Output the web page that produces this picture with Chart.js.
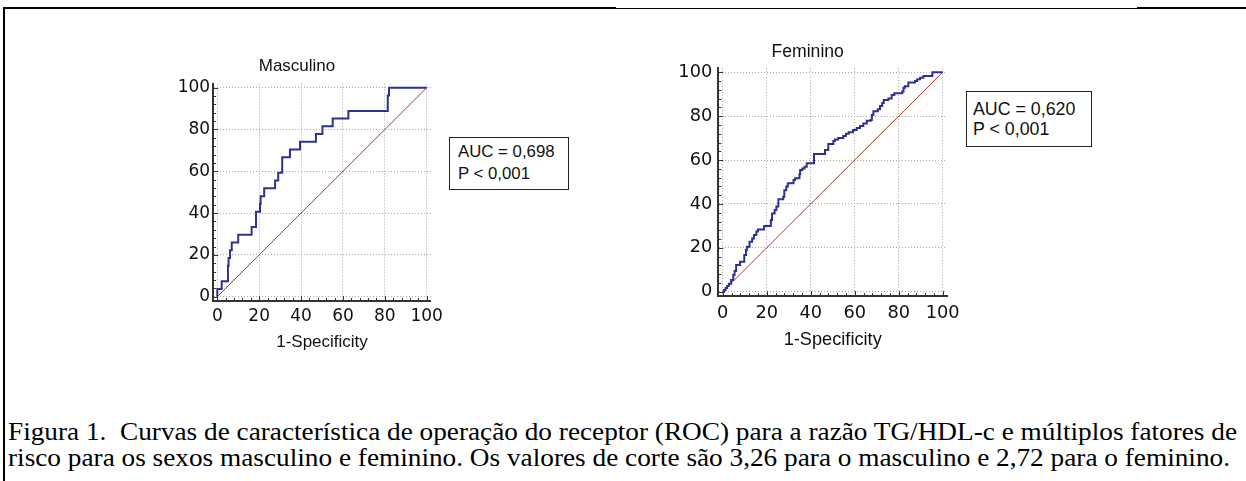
<!DOCTYPE html>
<html>
<head>
<meta charset="utf-8">
<script src="https://cdn.jsdelivr.net/npm/chart.js@4.4.1/dist/chart.umd.min.js"></script>
<style>
  html, body { margin: 0; padding: 0; background: #fff; }
  body { width: 1246px; height: 481px; position: relative; overflow: hidden; }
  .line { position: absolute; background: #000; }
  .chartwrap { position: absolute; }
  .auc { position: absolute; box-sizing: border-box; border: 1.5px solid #222; background: #fff;
         font-family: "Liberation Sans", Arial, sans-serif; color: #111; white-space: pre; }
  .cap { position: absolute; left: 8px; font-family: "Liberation Serif", "Times New Roman", serif;
         font-size: 26px; line-height: 1; white-space: pre; transform-origin: 0 0; color: #000; }
</style>
</head>
<body>
<!-- frame -->
<div class="line" style="left:3px;top:7px;width:613px;height:2px;"></div>
<div class="line" style="left:616px;top:8px;width:521px;height:1px;"></div>
<div class="line" style="left:1137px;top:7px;width:109px;height:2px;"></div>
<div class="line" style="left:3px;top:7px;width:1.5px;height:474px;"></div>

<div class="chartwrap" style="left:140px;top:40px;width:310px;height:330px;"><canvas id="cM" width="310" height="330"></canvas></div>
<div class="chartwrap" style="left:650px;top:20px;width:320px;height:350px;"><canvas id="cF" width="320" height="350"></canvas></div>

<div class="auc" id="boxM" style="left:449px;top:137px;width:120px;height:53px;padding:3px 0 0 8px;font-size:16.8px;line-height:22px;"></div>
<div class="auc" id="boxF" style="left:966px;top:91px;width:126px;height:56px;padding:7px 0 0 6px;font-size:17.8px;line-height:20px;"></div>

<div class="cap" id="cap1" style="top:419px;"></div>
<div class="cap" id="cap2" style="top:445px;"></div>

<script>
// ---------- data ----------
const mascFpr = [0, 0, 2.1, 5.1, 5.4, 6.1, 6.9, 10.0, 16.4, 18.5, 20.4, 20.7, 22.4, 27.6, 29.1, 31.0, 34.7, 39.5, 47.1, 50.2, 55.1, 62.6, 81.4, 82.0, 100];
const mascTpr = [0, 3.7, 7.4, 14.8, 18.5, 22.2, 25.9, 29.6, 33.3, 40.7, 44.4, 48.1, 51.9, 55.6, 59.3, 66.7, 70.4, 74.1, 77.8, 81.5, 85.2, 88.9, 96.3, 100, 100];

const femFpr = [0, 0.6, 1.3, 2.0, 2.8, 3.8, 4.8, 5.4, 6.1, 7.9, 9.8, 10.6, 11.0, 12.2, 13.4, 14.2, 15.3, 16.0, 18.8, 21.9, 22.4, 23.6, 24.4, 25.3, 27.5, 28.0, 28.9, 29.6, 32.2, 32.9, 34.9, 35.2, 36.2, 37.2, 38.2, 41.5, 46.5, 48.0, 50.3, 51.0, 52.5, 54.8, 56.0, 57.3, 59.2, 60.9, 62.4, 63.9, 65.5, 67.3, 67.8, 68.5, 70.5, 71.5, 72.5, 73.2, 75.3, 76.8, 78.0, 81.6, 82.2, 82.8, 84.4, 87.4, 88.4, 89.7, 91.2, 95.3, 100];
const femTpr = [0, 0.8, 1.7, 2.6, 3.6, 5.3, 7.6, 9.4, 12.2, 13.7, 16.7, 19.0, 20.5, 22.8, 24.3, 25.8, 27.4, 28.4, 29.9, 32.7, 35.7, 37.2, 38.8, 42.1, 43.3, 46.2, 48.0, 49.4, 50.9, 51.7, 53.5, 55.5, 56.2, 57.0, 58.5, 62.8, 64.6, 67.3, 68.7, 69.4, 70.1, 71.0, 72.0, 72.7, 73.7, 74.6, 75.5, 76.7, 77.9, 78.3, 80.5, 82.2, 83.2, 84.7, 86.0, 87.4, 88.1, 89.7, 90.5, 91.2, 93.0, 93.6, 95.3, 96.0, 96.8, 97.5, 98.3, 100, 100];

const diagX = [0, 100];
const diagY = [0, 100];
const tickValues = [0, 20, 40, 60, 80, 100];
const chartTitles = ['Masculino', 'Feminino'];
const xAxisTitle = '1-Specificity';
const aucTexts = ['AUC = 0,698', 'AUC = 0,620'];
const pTexts = ['P < 0,001', 'P < 0,001'];
const captionLines = [
  'Figura 1.  Curvas de característica de operação do receptor (ROC) para a razão TG/HDL-c e múltiplos fatores de',
  'risco para os sexos masculino e feminino. Os valores de corte são 3,26 para o masculino e 2,72 para o feminino.'
];

// ---------- plugin: minor ticks ----------
const minorTicks = {
  id: 'minorTicks',
  afterDraw(chart) {
    const { ctx, chartArea, scales } = chart;
    const x = scales.x, y = scales.y;
    ctx.save();
    ctx.strokeStyle = '#333';
    ctx.lineWidth = 1;
    for (let v = 0; v <= 100; v += 4) {
      const len = (v % 20 === 0) ? 5 : 3;
      const py = Math.round(y.getPixelForValue(v)) + 0.5;
      ctx.beginPath(); ctx.moveTo(chartArea.left, py); ctx.lineTo(chartArea.left + len, py); ctx.stroke();
      const px = Math.round(x.getPixelForValue(v)) + 0.5;
      ctx.beginPath(); ctx.moveTo(px, chartArea.bottom); ctx.lineTo(px, chartArea.bottom - len); ctx.stroke();
    }
    ctx.restore();
  }
};

function makeChart(id, fpr, tpr, title, cfg) {
  const roc = fpr.map((v, i) => ({ x: v, y: tpr[i] }));
  const diag = diagX.map((v, i) => ({ x: v, y: diagY[i] }));
  const tickFont = { family: 'DejaVu Sans', size: cfg.tickSize };
  const gridOpts = { color: '#a8a8a8', lineWidth: 1, drawTicks: false };
  const borderOpts = { display: true, color: '#333', width: 2, dash: [1, 2] };
  return new Chart(document.getElementById(id), {
    type: 'line',
    data: {
      datasets: [
        { data: roc, borderColor: '#2e3192', borderWidth: 2, pointRadius: 0, stepped: 'before', fill: false, order: 0 },
        { data: diag, borderColor: '#b83228', borderWidth: 1, pointRadius: 0, fill: false, order: 1 }
      ]
    },
    options: {
      responsive: false, animation: false, devicePixelRatio: 1,
      events: [],
      layout: { padding: { left: cfg.padL, right: cfg.padR, top: 0, bottom: cfg.padB } },
      plugins: {
        legend: { display: false }, tooltip: { enabled: false },
        title: { display: true, text: title, color: '#111',
                 font: { family: 'Liberation Sans', size: cfg.titleSize, weight: 'normal' },
                 padding: { top: cfg.titleT, bottom: cfg.titleB } }
      },
      scales: {
        x: {
          type: 'linear', min: -2, max: 102,
          afterBuildTicks: s => { s.ticks = tickValues.map(v => ({ value: v })); },
          afterFit: s => { s.height = cfg.xH; },
          grid: gridOpts, border: borderOpts,
          ticks: { font: tickFont, color: '#111', padding: cfg.xTickPad, maxRotation: 0, autoSkip: false },
          title: { display: true, text: xAxisTitle, color: '#111', padding: 0,
                   font: { family: 'Liberation Sans', size: cfg.axisTitleSize } }
        },
        y: {
          type: 'linear', min: -2, max: 102,
          afterBuildTicks: s => { s.ticks = tickValues.map(v => ({ value: v })); },
          afterFit: s => { s.width = cfg.yW; },
          grid: gridOpts, border: borderOpts,
          ticks: { font: tickFont, color: '#111', padding: cfg.yTickPad, autoSkip: false }
        }
      }
    },
    plugins: [minorTicks]
  });
}

makeChart('cM', mascFpr, mascTpr, chartTitles[0], {
  padL: 23.1, padR: 19.1, padB: 17.2, yW: 50, xH: 51.9,
  titleSize: 17, titleT: 16.5, titleB: 6.6,
  tickSize: 17, xTickPad: 5.5, yTickPad: 3, axisTitleSize: 17
});
makeChart('cF', femFpr, femTpr, chartTitles[1], {
  padL: 18.3, padR: 22.9, padB: 19.1, yW: 50, xH: 54.8,
  titleSize: 17.6, titleT: 21.1, titleB: 5.7,
  tickSize: 17.8, xTickPad: 6.2, yTickPad: 6, axisTitleSize: 18.2
});

document.getElementById('boxM').textContent = aucTexts[0] + '\n' + pTexts[0];
document.getElementById('boxF').textContent = aucTexts[1] + '\n' + pTexts[1];

const capTargets = [1229, 1222];
['cap1', 'cap2'].forEach((id, i) => {
  const el = document.getElementById(id);
  el.textContent = captionLines[i];
  const w = el.getBoundingClientRect().width;
  el.style.transform = 'scaleX(' + (capTargets[i] / w) + ')';
});
</script>
</body>
</html>
